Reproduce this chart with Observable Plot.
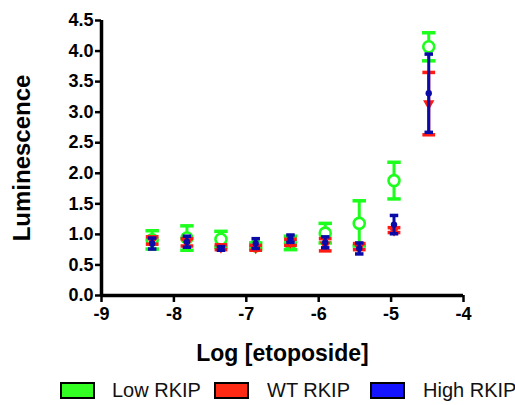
<!DOCTYPE html>
<html>
<head>
<meta charset="utf-8">
<script src="https://cdn.jsdelivr.net/npm/d3@7"></script>
<script src="https://cdn.jsdelivr.net/npm/@observablehq/plot@0.6"></script>
<style>
  html, body { margin: 0; padding: 0; background: #fff; }
  body { width: 515px; height: 405px; position: relative; overflow: hidden; font-family: "Liberation Sans", Arial, sans-serif; }
  #chart { position: absolute; left: 0; top: 0; }
  .legend { position: absolute; top: 382px; left: 0; width: 515px; height: 20px; }
  .sw { position: absolute; top: 0; width: 31px; height: 13px; border: 2px solid #000; }
  .lt { position: absolute; top: -3px; font-size: 20px; color: #111; white-space: nowrap; }
</style>
</head>
<body>
<div id="chart"></div>
<div class="legend" id="legend"></div>
<script>
// ---- data ----
const logConc = [-8.30, -7.82, -7.35, -6.87, -6.39, -5.91, -5.44, -4.96, -4.48];
const seriesNames = ["Low RKIP", "WT RKIP", "High RKIP"];
const lowMean  = [0.91, 0.94, 0.92, 0.81, 0.86, 1.02, 1.18, 1.88, 4.07];
const lowErr   = [0.15, 0.20, 0.13, 0.05, 0.11, 0.16, 0.37, 0.30, 0.23];
const wtMean   = [0.90, 0.87, 0.79, 0.78, 0.87, 0.83, 0.80, 1.07, 3.14];
const wtErr    = [0.06, 0.06, 0.04, 0.04, 0.05, 0.10, 0.05, 0.04, 0.51];
const highMean = [0.85, 0.88, 0.77, 0.85, 0.93, 0.87, 0.77, 1.16, 3.31];
const highErr  = [0.09, 0.09, 0.03, 0.08, 0.06, 0.09, 0.09, 0.15, 0.64];
const xTicks = [-9, -8, -7, -6, -5, -4];
const yTicks = [0, 0.5, 1, 1.5, 2, 2.5, 3, 3.5, 4, 4.5];
const xTitle = "Log [etoposide]";
const yTitle = "Luminescence";

const colors = {"Low RKIP": "#1cff1c", "WT RKIP": "#ff1a12", "High RKIP": "#0a0aa8"};
const legendColors = {"Low RKIP": "#33ff22", "WT RKIP": "#ff2a14", "High RKIP": "#1414ff"};

function rows(name, means, errs) {
  return logConc.map((x, i) => ({series: name, x, y: means[i], lo: means[i] - errs[i], hi: means[i] + errs[i]}));
}
const low = rows("Low RKIP", lowMean, lowErr);
const wt = rows("WT RKIP", wtMean, wtErr);
const high = rows("High RKIP", highMean, highErr);

// horizontal cap symbol
const cap = { draw(ctx, size) { const w = Math.sqrt(size) ; ctx.moveTo(-w, 0); ctx.lineTo(w, 0); } };

function errMarks(data, color, capR, sw) {
  return [
    Plot.ruleX(data, {x: "x", y1: "lo", y2: "hi", stroke: color, strokeWidth: sw}),
    Plot.dot(data, {x: "x", y: "hi", symbol: cap, r: capR, stroke: color, strokeWidth: 3.5}),
    Plot.dot(data, {x: "x", y: "lo", symbol: cap, r: capR, stroke: color, strokeWidth: 3.5})
  ];
}

const font = "'Liberation Sans', Arial, sans-serif";
const plot = Plot.plot({
  width: 515,
  height: 372,
  marginLeft: 101,
  marginRight: 52,
  marginTop: 20,
  marginBottom: 77,
  style: {fontFamily: font, background: "#fff", overflow: "visible"},
  x: {domain: [-9, -4]},
  y: {domain: [0, 4.5]},
  marks: [
    Plot.axisY({ticks: yTicks, tickFormat: d3.format(".1f"), tickSize: 6, tickPadding: 2, strokeWidth: 2.5, fontSize: 18, fontWeight: "bold", fill: "#000", label: null}),
    Plot.axisX({ticks: xTicks, tickFormat: d => (d < 0 ? "-" : "") + Math.abs(d), tickSize: 7, tickPadding: 5, strokeWidth: 2.5, fontSize: 18, fontWeight: "bold", fill: "#000", label: null}),
    Plot.ruleY([0], {x1: -9, x2: -4, stroke: "#000", strokeWidth: 3.5}),
    Plot.ruleX([-9], {y1: 0, y2: 4.5, stroke: "#000", strokeWidth: 3.5}),
    ...errMarks(low, colors["Low RKIP"], 3.8, 3),
    Plot.dot(low, {x: "x", y: "y", r: 5.5, fill: "#fff", stroke: colors["Low RKIP"], strokeWidth: 2.6}),
    ...errMarks(wt, colors["WT RKIP"], 3.6, 3),
    Plot.dot(wt, {x: "x", y: "y", symbol: "triangle", r: 4.2, rotate: 180, fill: colors["WT RKIP"]}),
    ...errMarks(high, colors["High RKIP"], 2.4, 3),
    Plot.dot(high, {x: "x", y: "y", r: 3.2, fill: colors["High RKIP"]}),
    Plot.text([yTitle], {frameAnchor: "left", dx: -79, rotate: -90, textAnchor: "middle", fontSize: 24, fontWeight: "bold", fill: "#000", letterSpacing: "1.5px"}),
    Plot.text([xTitle], {frameAnchor: "bottom", dy: 65, lineAnchor: "bottom", fontSize: 23, fontWeight: "bold", fill: "#000", letterSpacing: "-0.5px"})
  ]
});
document.getElementById("chart").appendChild(plot);
d3.select(plot).selectAll("text").style("letter-spacing", function() { return this.getAttribute("letter-spacing"); });

// legend
const legendPos = {"Low RKIP": [60, 112], "WT RKIP": [214, 267], "High RKIP": [370, 423]};
const lg = d3.select("#legend");
seriesNames.forEach(n => {
  lg.append("div").attr("class", "sw").style("left", legendPos[n][0] + "px").style("background", legendColors[n]);
  lg.append("div").attr("class", "lt").style("left", legendPos[n][1] + "px").text(n);
});
</script>
</body>
</html>
